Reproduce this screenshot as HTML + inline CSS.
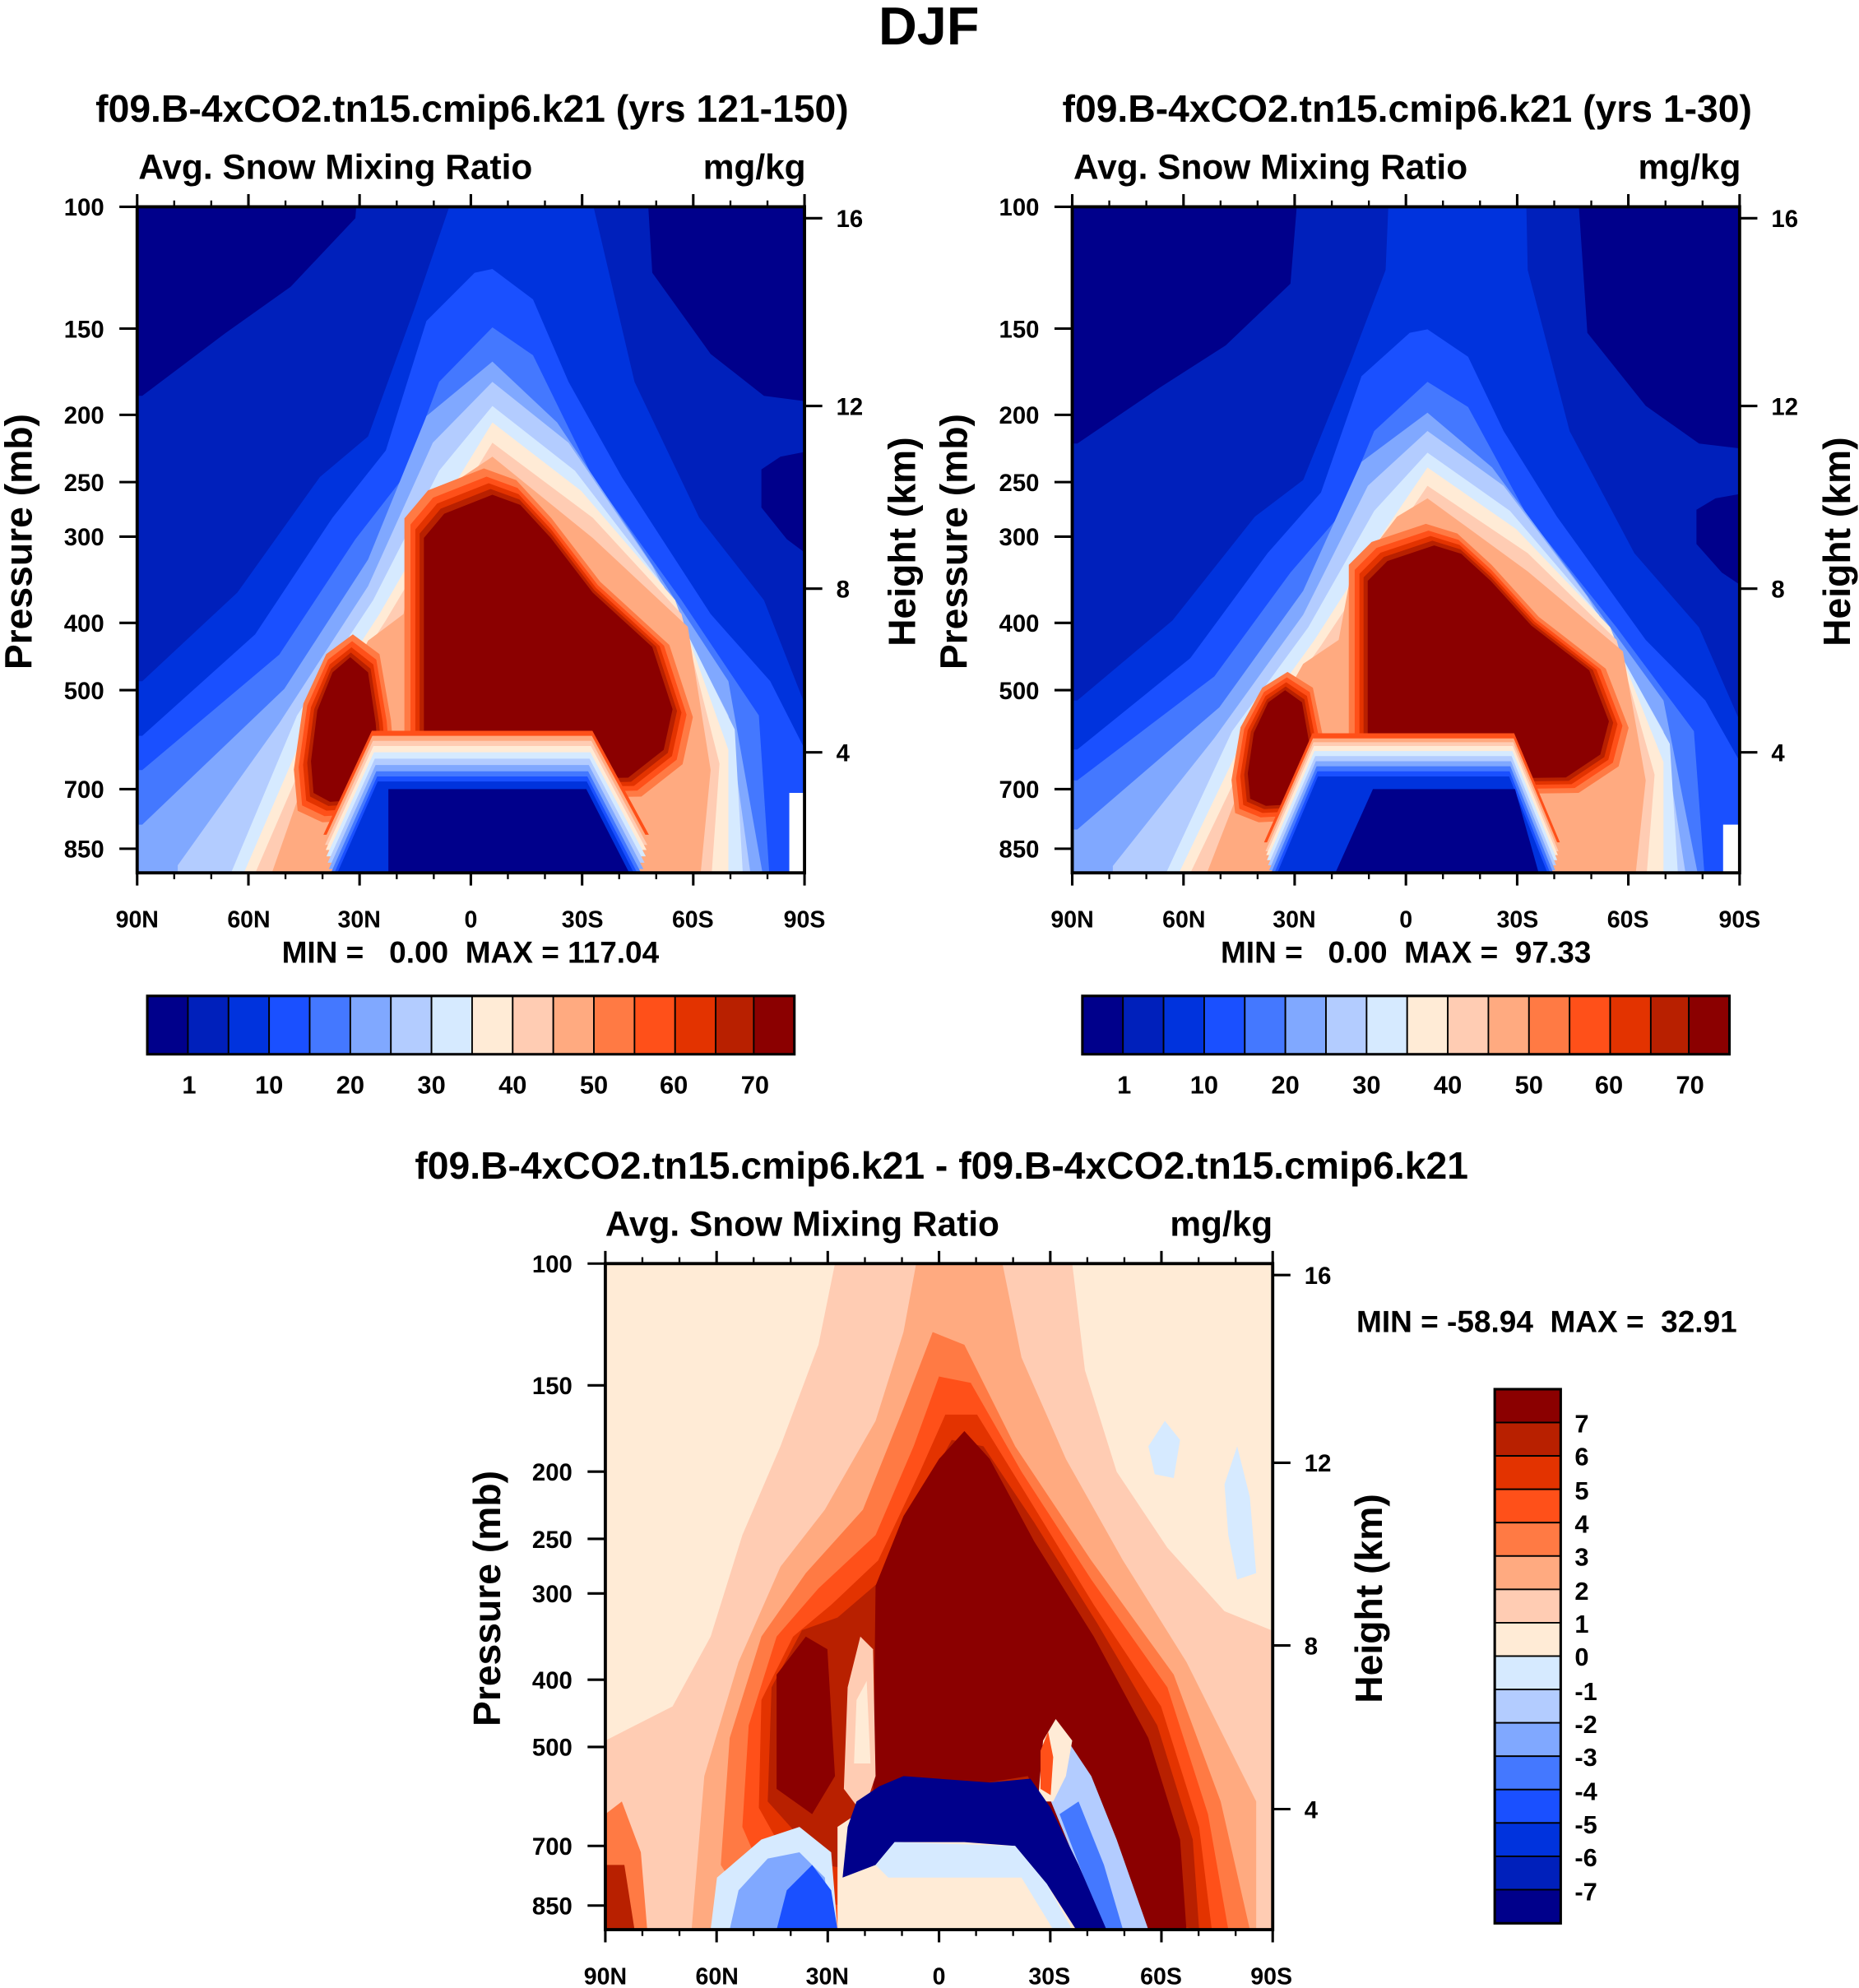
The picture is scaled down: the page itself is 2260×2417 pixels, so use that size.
<!DOCTYPE html>
<html><head><meta charset="utf-8"><style>html,body{margin:0;padding:0;background:#fff}svg{display:block}</style></head>
<body>
<svg xmlns="http://www.w3.org/2000/svg" xmlns:xlink="http://www.w3.org/1999/xlink" width="2260" height="2417" viewBox="0 0 1465 1567" font-family="Liberation Sans, Arial, sans-serif" font-weight="bold">
<defs>
<clipPath id="c1"><rect x="108" y="163" width="526" height="525"/></clipPath>
<clipPath id="c2"><rect x="845" y="163" width="526" height="525"/></clipPath>
<clipPath id="c3"><rect x="477" y="996" width="525" height="525"/></clipPath>
<g id="arch">
<path fill="#0020BB" d="M100,312 L112,312 L177,263 L229,226 L280,172 L300,-100 L495,-100 L514,215 L560,279 L602,312 L640,317 L640,700 L100,700Z"/>
<path fill="#00008B" d="M600,370 L615,360 L640,355 L640,440 L620,425 L600,400Z"/>
<path fill="#0033DD" d="M100,537 L112,537 L187,467 L252,376 L290,344 L327,242 L355,160 L365,-100 L462,-100 L467,160 L500,301 L551,408 L602,473 L640,570 L640,700 L100,700Z"/>
<path fill="#1A50FF" d="M100,580 L112,580 L201,500 L262,408 L304,355 L336,253 L374,215 L388,212 L420,236 L448,301 L490,376 L560,484 L607,537 L640,602 L640,700 L100,700Z"/>
<path fill="#4478FF" d="M100,607 L112,607 L220,516 L280,425 L318,376 L346,301 L388,258 L420,280 L467,376 L537,473 L598,564 L607,700 L100,700Z"/>
<path fill="#80A8FF" d="M100,650 L112,650 L224,543 L290,441 L336,328 L388,285 L439,333 L504,430 L574,537 L603,700 L100,700Z"/>
<path fill="#B3CCFF" d="M140,700 L140,682 L220,570 L290,462 L341,349 L388,301 L448,349 L514,446 L574,564 L593,700Z"/>
<path fill="#D6EAFF" d="M177,700 L234,564 L294,473 L346,371 L388,320 L453,371 L523,462 L579,575 L586,700Z"/>
<path fill="#FFEBD6" d="M187,700 L243,570 L299,484 L355,387 L388,333 L458,387 L532,473 L574,591 L574,700Z"/>
<path fill="#FFCCB3" d="M196,700 L252,570 L304,489 L360,395 L388,349 L467,408 L537,484 L567,602 L560,700Z"/>
<path fill="#FFAA80" d="M210,700 L252,580 L290,505 L318,484 L327,430 L364,376 L388,360 L467,424 L542,494 L560,607 L551,700Z"/>
</g>
<path id="lobeL" d="M245,600 L250,560 L262,530 L276,518 L290,530 L296,570 L299,610 L290,630 L260,632 L247,625Z"/>
<path id="lobeR" d="M334,612 L334,424 L350,405 L388,390 L410,398 L434,424 L467,467 L514,510 L530,559 L523,591 L495,613 L430,614Z"/>
<g id="lobes">
<use xlink:href="#lobeL" fill="#FF7A44" transform="translate(272,578) scale(1.5,1.3) translate(-272,-578)"/>
<use xlink:href="#lobeL" fill="#FF5019" transform="translate(272,578) scale(1.36,1.21) translate(-272,-578)"/>
<use xlink:href="#lobeL" fill="#E33300" transform="translate(272,578) scale(1.23,1.13) translate(-272,-578)"/>
<use xlink:href="#lobeL" fill="#B82000" transform="translate(272,578) scale(1.11,1.06) translate(-272,-578)"/>
<use xlink:href="#lobeL" fill="#8B0000"/>
</g>
<g id="lobesR">
<use xlink:href="#lobeR" fill="#FF7A44" transform="translate(430,520) scale(1.16,1.16) translate(-430,-520)"/>
<use xlink:href="#lobeR" fill="#FF5019" transform="translate(430,520) scale(1.11,1.11) translate(-430,-520)"/>
<use xlink:href="#lobeR" fill="#E33300" transform="translate(430,520) scale(1.07,1.07) translate(-430,-520)"/>
<use xlink:href="#lobeR" fill="#B82000" transform="translate(430,520) scale(1.035,1.035) translate(-430,-520)"/>
<use xlink:href="#lobeR" fill="#8B0000"/>
</g>
<path id="dome" d="M262,700 L298,618 L462,618 L504,700Z"/>
<path id="dome2" d="M266,700 L302,614 L452,614 L486,700Z"/>
<g id="domebands">
<use xlink:href="#dome" fill="#FF5019" transform="translate(382,0) scale(1.06,1) translate(-382,-42)"/>
<use xlink:href="#dome" fill="#FFAA80" transform="translate(382,0) scale(1.055,1) translate(-382,-38)"/>
<use xlink:href="#dome" fill="#FFCCB3" transform="translate(382,0) scale(1.05,1) translate(-382,-34)"/>
<use xlink:href="#dome" fill="#FFEBD6" transform="translate(382,0) scale(1.045,1) translate(-382,-30)"/>
<use xlink:href="#dome" fill="#D6EAFF" transform="translate(382,0) scale(1.04,1) translate(-382,-25)"/>
<use xlink:href="#dome" fill="#B3CCFF" transform="translate(382,0) scale(1.032,1) translate(-382,-20)"/>
<use xlink:href="#dome" fill="#80A8FF" transform="translate(382,0) scale(1.025,1) translate(-382,-15)"/>
<use xlink:href="#dome" fill="#4478FF" transform="translate(382,0) scale(1.018,1) translate(-382,-10)"/>
<use xlink:href="#dome" fill="#1A50FF" transform="translate(382,0) scale(1.01,1) translate(-382,-6)"/>
<use xlink:href="#dome" fill="#0033DD" transform="translate(382,0) scale(1.005,1) translate(-382,-2)"/>
</g>
<g id="domebands2">
<use xlink:href="#dome2" fill="#FF5019" transform="translate(380,0) scale(1.06,1) translate(-380,-36)"/>
<use xlink:href="#dome2" fill="#FFAA80" transform="translate(380,0) scale(1.055,1) translate(-380,-32)"/>
<use xlink:href="#dome2" fill="#FFCCB3" transform="translate(380,0) scale(1.05,1) translate(-380,-29)"/>
<use xlink:href="#dome2" fill="#FFEBD6" transform="translate(380,0) scale(1.045,1) translate(-380,-26)"/>
<use xlink:href="#dome2" fill="#D6EAFF" transform="translate(380,0) scale(1.04,1) translate(-380,-22)"/>
<use xlink:href="#dome2" fill="#B3CCFF" transform="translate(380,0) scale(1.032,1) translate(-380,-18)"/>
<use xlink:href="#dome2" fill="#80A8FF" transform="translate(380,0) scale(1.025,1) translate(-380,-14)"/>
<use xlink:href="#dome2" fill="#4478FF" transform="translate(380,0) scale(1.018,1) translate(-380,-10)"/>
<use xlink:href="#dome2" fill="#1A50FF" transform="translate(380,0) scale(1.01,1) translate(-380,-6)"/>
<use xlink:href="#dome2" fill="#0033DD" transform="translate(380,0) scale(1.005,1) translate(-380,-2)"/>
</g>
<g id="frame" fill="none" stroke="#000">
<rect x="0" y="0" width="526" height="525" stroke-width="2.5"/>
<path stroke-width="2" d="M0,0v-10M87.7,0v-10M175.3,0v-10M263,0v-10M350.7,0v-10M438.3,0v-10M526,0v-10M0,525v10M87.7,525v10M175.3,525v10M263,525v10M350.7,525v10M438.3,525v10M526,525v10"/>
<path stroke-width="1.5" d="M29.2,0v-5M58.4,0v-5M116.9,0v-5M146.1,0v-5M204.6,0v-5M233.8,0v-5M292.2,0v-5M321.4,0v-5M379.9,0v-5M409.1,0v-5M467.6,0v-5M496.8,0v-5M29.2,525v5M58.4,525v5M116.9,525v5M146.1,525v5M204.6,525v5M233.8,525v5M292.2,525v5M321.4,525v5M379.9,525v5M409.1,525v5M467.6,525v5M496.8,525v5"/>
<path stroke-width="2" d="M0,0h-14M0,96h-14M0,164h-14M0,217h-14M0,260h-14M0,328h-14M0,381h-14M0,459h-14M0,506h-14M526,9h14M526,157h14M526,301h14M526,430h14"/>
</g>
<g id="hbar" stroke="#000" stroke-width="1.2">
<rect x="0" y="0" width="32" height="46" fill="#00008B"/><rect x="32" y="0" width="32" height="46" fill="#0020BB"/><rect x="64" y="0" width="32" height="46" fill="#0033DD"/><rect x="96" y="0" width="32" height="46" fill="#1A50FF"/><rect x="128" y="0" width="32" height="46" fill="#4478FF"/><rect x="160" y="0" width="32" height="46" fill="#80A8FF"/><rect x="192" y="0" width="32" height="46" fill="#B3CCFF"/><rect x="224" y="0" width="32" height="46" fill="#D6EAFF"/><rect x="256" y="0" width="32" height="46" fill="#FFEBD6"/><rect x="288" y="0" width="32" height="46" fill="#FFCCB3"/><rect x="320" y="0" width="32" height="46" fill="#FFAA80"/><rect x="352" y="0" width="32" height="46" fill="#FF7A44"/><rect x="384" y="0" width="32" height="46" fill="#FF5019"/><rect x="416" y="0" width="32" height="46" fill="#E33300"/><rect x="448" y="0" width="30" height="46" fill="#B82000"/><rect x="478" y="0" width="32" height="46" fill="#8B0000"/>
<rect x="0" y="0" width="510" height="46" fill="none" stroke-width="2"/>
</g>
</defs>

<text x="732" y="35" font-size="42" text-anchor="middle">DJF</text>

<!-- PLOT 1 -->
<g clip-path="url(#c1)">
<rect x="108" y="163" width="526" height="525" fill="#00008B"/>
<use xlink:href="#arch"/>
<rect x="622" y="625" width="12" height="63" fill="#fff"/>
<use xlink:href="#lobes"/>
<use xlink:href="#lobesR"/>
<use xlink:href="#domebands"/>
<path fill="#00008B" d="M306,700 L306,622 L462,622 L502,700Z"/>
</g>
<use xlink:href="#frame" transform="translate(108,163)"/>

<!-- PLOT 2 -->
<g clip-path="url(#c2)">
<rect x="845" y="163" width="526" height="525" fill="#00008B"/>
<use xlink:href="#arch" transform="translate(737,688) scale(1,0.9) translate(0,-688)"/>
<rect x="1358" y="650" width="13" height="38" fill="#fff"/>
<use xlink:href="#lobes" transform="translate(737,14) translate(272,578) scale(0.95,0.8) translate(-272,-578)"/>
<use xlink:href="#lobesR" transform="translate(741,0) translate(430,612) scale(0.97,0.82) translate(-430,-612)"/>
<g transform="translate(737,0)"><use xlink:href="#domebands2"/></g>
<path fill="#00008B" d="M1047,700 L1082,622 L1194,622 L1216,700Z"/>
</g>
<use xlink:href="#frame" transform="translate(845,163)"/>

<!-- PLOT 3 -->
<g clip-path="url(#c3)">
<rect x="477" y="996" width="525" height="525" fill="#FFEBD6"/>
<path fill="#FFCCB3" d="M477,1372 L530,1345 L560,1290 L585,1210 L615,1140 L645,1060 L658,996 L845,996 L855,1080 L880,1160 L920,1220 L965,1270 L1002,1285 L1002,1521 L477,1521Z"/>
<path fill="#FFAA80" d="M545,1521 L555,1400 L582,1310 L615,1235 L650,1190 L690,1120 L712,1050 L722,996 L790,996 L805,1070 L840,1150 L885,1230 L935,1310 L975,1390 L1000,1440 L1002,1521Z"/>
<path fill="#FF7A44" d="M568,1470 L575,1370 L600,1290 L635,1240 L680,1190 L712,1110 L735,1050 L760,1060 L800,1140 L860,1230 L925,1320 L962,1420 L985,1521 L600,1521Z"/>
<path fill="#FF5019" d="M585,1440 L590,1360 L612,1290 L645,1252 L690,1210 L720,1140 L740,1085 L765,1090 L805,1160 L860,1245 L920,1330 L952,1430 L968,1521 L620,1521Z"/>
<path fill="#E33300" d="M598,1425 L600,1340 L625,1290 L655,1265 L692,1230 L725,1160 L745,1115 L770,1115 L810,1180 L862,1265 L915,1345 L945,1440 L955,1521 L640,1500Z"/>
<path fill="#B82000" d="M605,1420 L608,1330 L632,1285 L660,1275 L695,1245 L728,1175 L750,1135 L775,1140 L815,1200 L865,1280 L912,1360 L940,1450 L945,1521 L650,1470Z"/>
<path fill="#8B0000" d="M612,1410 L612,1320 L635,1290 L652,1300 L658,1400 L640,1430Z"/>
<path fill="#8B0000" d="M688,1420 L690,1250 L712,1195 L740,1150 L760,1128 L780,1150 L815,1215 L862,1290 L905,1370 L930,1450 L935,1521 L870,1521 L810,1400Z"/>
<path fill="#FFCCB3" d="M665,1410 L668,1330 L678,1290 L688,1300 L690,1400 L680,1430Z"/>
<path fill="#FFEBD6" d="M673,1390 L675,1340 L683,1325 L686,1390Z"/>
<path fill="#FFEBD6" d="M660,1521 L660,1440 L690,1420 L812,1420 L830,1440 L870,1521Z"/>
<path fill="#B3CCFF" d="M820,1400 L840,1370 L860,1400 L880,1450 L905,1521 L870,1521Z"/>
<path fill="#4478FF" d="M835,1430 L850,1420 L870,1470 L885,1521 L870,1521Z"/>
<path fill="#FFEBD6" d="M818,1420 L822,1372 L832,1355 L845,1372 L840,1400 L830,1420Z"/>
<path fill="#FF5019" d="M820,1380 L826,1365 L830,1385 L828,1415 L820,1410Z"/>
<path fill="#00008B" d="M664,1480 L668,1440 L675,1420 L693,1408 L712,1400 L780,1405 L812,1402 L828,1425 L850,1470 L872,1521 L848,1521 L825,1485 L800,1455 L760,1452 L705,1452 L690,1470Z"/>
<path fill="#D6EAFF" d="M690,1470 L705,1452 L800,1455 L825,1485 L845,1521 L830,1521 L805,1480 L700,1480Z"/>
<path fill="#D6EAFF" d="M560,1521 L565,1480 L600,1450 L630,1440 L655,1460 L660,1521Z"/>
<path fill="#80A8FF" d="M575,1521 L582,1490 L605,1465 L630,1460 L650,1480 L655,1521Z"/>
<path fill="#1A50FF" d="M612,1521 L620,1490 L640,1470 L655,1490 L660,1521Z"/>
<path fill="#D6EAFF" d="M905,1140 L918,1120 L930,1135 L925,1165 L910,1162Z"/>
<path fill="#D6EAFF" d="M965,1170 L975,1140 L985,1180 L990,1240 L975,1245 L968,1210Z"/>
<path fill="#FF7A44" d="M477,1430 L490,1420 L505,1460 L510,1521 L477,1521Z"/>
<path fill="#B82000" d="M477,1470 L492,1470 L500,1521 L477,1521Z"/>
<path fill="#FFCCB3" d="M990,1420 L1002,1430 L1002,1521 L990,1521Z"/>
</g>
<use xlink:href="#frame" transform="translate(477,996)"/>

<g font-size="30" text-anchor="middle">
<text x="372" y="96">f09.B-4xCO2.tn15.cmip6.k21 (yrs 121-150)</text>
<text x="1109" y="96">f09.B-4xCO2.tn15.cmip6.k21 (yrs 1-30)</text>
<text x="742" y="929">f09.B-4xCO2.tn15.cmip6.k21 - f09.B-4xCO2.tn15.cmip6.k21</text>
</g>
<g font-size="27.5">
<text x="109" y="141">Avg. Snow Mixing Ratio</text>
<text x="635" y="141" text-anchor="end">mg/kg</text>
<text x="846" y="141">Avg. Snow Mixing Ratio</text>
<text x="1372" y="141" text-anchor="end">mg/kg</text>
<text x="477" y="974">Avg. Snow Mixing Ratio</text>
<text x="1003" y="974" text-anchor="end">mg/kg</text>
</g>
<g font-size="19" text-anchor="end">
<text x="82" y="170">100</text><text x="82" y="266">150</text><text x="82" y="334">200</text><text x="82" y="387">250</text><text x="82" y="430">300</text><text x="82" y="498">400</text><text x="82" y="551">500</text><text x="82" y="629">700</text><text x="82" y="676">850</text>
<text x="819" y="170">100</text><text x="819" y="266">150</text><text x="819" y="334">200</text><text x="819" y="387">250</text><text x="819" y="430">300</text><text x="819" y="498">400</text><text x="819" y="551">500</text><text x="819" y="629">700</text><text x="819" y="676">850</text>
<text x="451" y="1003">100</text><text x="451" y="1099">150</text><text x="451" y="1167">200</text><text x="451" y="1220">250</text><text x="451" y="1263">300</text><text x="451" y="1331">400</text><text x="451" y="1384">500</text><text x="451" y="1462">700</text><text x="451" y="1509">850</text>
</g>
<g font-size="19">
<text x="659" y="179">16</text><text x="659" y="327">12</text><text x="659" y="471">8</text><text x="659" y="600">4</text>
<text x="1396" y="179">16</text><text x="1396" y="327">12</text><text x="1396" y="471">8</text><text x="1396" y="600">4</text>
<text x="1028" y="1012">16</text><text x="1028" y="1160">12</text><text x="1028" y="1304">8</text><text x="1028" y="1433">4</text>
</g>
<g font-size="18.5" text-anchor="middle">
<text x="108" y="731">90N</text><text x="196" y="731">60N</text><text x="283" y="731">30N</text><text x="371" y="731">0</text><text x="459" y="731">30S</text><text x="546" y="731">60S</text><text x="634" y="731">90S</text>
<text x="845" y="731">90N</text><text x="933" y="731">60N</text><text x="1020" y="731">30N</text><text x="1108" y="731">0</text><text x="1196" y="731">30S</text><text x="1283" y="731">60S</text><text x="1371" y="731">90S</text>
<text x="477" y="1564">90N</text><text x="565" y="1564">60N</text><text x="652" y="1564">30N</text><text x="740" y="1564">0</text><text x="827" y="1564">30S</text><text x="915" y="1564">60S</text><text x="1002" y="1564">90S</text>
</g>
<g font-size="30" text-anchor="middle">
<text transform="translate(25,427) rotate(-90)">Pressure (mb)</text>
<text transform="translate(721,427) rotate(-90)">Height (km)</text>
<text transform="translate(762,427) rotate(-90)">Pressure (mb)</text>
<text transform="translate(1458,427) rotate(-90)">Height (km)</text>
<text transform="translate(394,1260) rotate(-90)">Pressure (mb)</text>
<text transform="translate(1089,1260) rotate(-90)">Height (km)</text>
</g>
<g font-size="24">
<text x="222" y="759" xml:space="preserve">MIN =   0.00  MAX = 117.04</text>
<text x="962" y="759" xml:space="preserve">MIN =   0.00  MAX =  97.33</text>
<text x="1069" y="1050" xml:space="preserve">MIN = -58.94  MAX =  32.91</text>
</g>

<use xlink:href="#hbar" transform="translate(116,785)"/>
<use xlink:href="#hbar" transform="translate(853,785)"/>
<g font-size="20" text-anchor="middle">
<text x="149" y="862">1</text><text x="212" y="862">10</text><text x="276" y="862">20</text><text x="340" y="862">30</text><text x="404" y="862">40</text><text x="468" y="862">50</text><text x="531" y="862">60</text><text x="595" y="862">70</text>
<text x="886" y="862">1</text><text x="949" y="862">10</text><text x="1013" y="862">20</text><text x="1077" y="862">30</text><text x="1141" y="862">40</text><text x="1205" y="862">50</text><text x="1268" y="862">60</text><text x="1332" y="862">70</text>
</g>

<g stroke="#000" stroke-width="1.2">
<rect x="1178" y="1095" width="52" height="26.3" fill="#8B0000"/>
<rect x="1178" y="1121.3" width="52" height="26.3" fill="#B82000"/>
<rect x="1178" y="1147.6" width="52" height="26.3" fill="#E33300"/>
<rect x="1178" y="1173.9" width="52" height="26.3" fill="#FF5019"/>
<rect x="1178" y="1200.2" width="52" height="26.3" fill="#FF7A44"/>
<rect x="1178" y="1226.5" width="52" height="26.3" fill="#FFAA80"/>
<rect x="1178" y="1252.8" width="52" height="26.3" fill="#FFCCB3"/>
<rect x="1178" y="1279.1" width="52" height="26.3" fill="#FFEBD6"/>
<rect x="1178" y="1305.4" width="52" height="26.3" fill="#D6EAFF"/>
<rect x="1178" y="1331.7" width="52" height="26.3" fill="#B3CCFF"/>
<rect x="1178" y="1358" width="52" height="26.3" fill="#80A8FF"/>
<rect x="1178" y="1384.3" width="52" height="26.3" fill="#4478FF"/>
<rect x="1178" y="1410.6" width="52" height="26.3" fill="#1A50FF"/>
<rect x="1178" y="1436.9" width="52" height="26.3" fill="#0033DD"/>
<rect x="1178" y="1463.2" width="52" height="26.3" fill="#0020BB"/>
<rect x="1178" y="1489.5" width="52" height="26.5" fill="#00008B"/>
<rect x="1178" y="1095" width="52" height="421" fill="none" stroke-width="2"/>
</g>
<g font-size="20">
<text x="1241" y="1129">7</text><text x="1241" y="1155">6</text><text x="1241" y="1182">5</text><text x="1241" y="1208">4</text><text x="1241" y="1234">3</text><text x="1241" y="1261">2</text><text x="1241" y="1287">1</text><text x="1241" y="1313">0</text><text x="1241" y="1340">-1</text><text x="1241" y="1366">-2</text><text x="1241" y="1392">-3</text><text x="1241" y="1419">-4</text><text x="1241" y="1445">-5</text><text x="1241" y="1471">-6</text><text x="1241" y="1498">-7</text>
</g>
</svg>
</body></html>
